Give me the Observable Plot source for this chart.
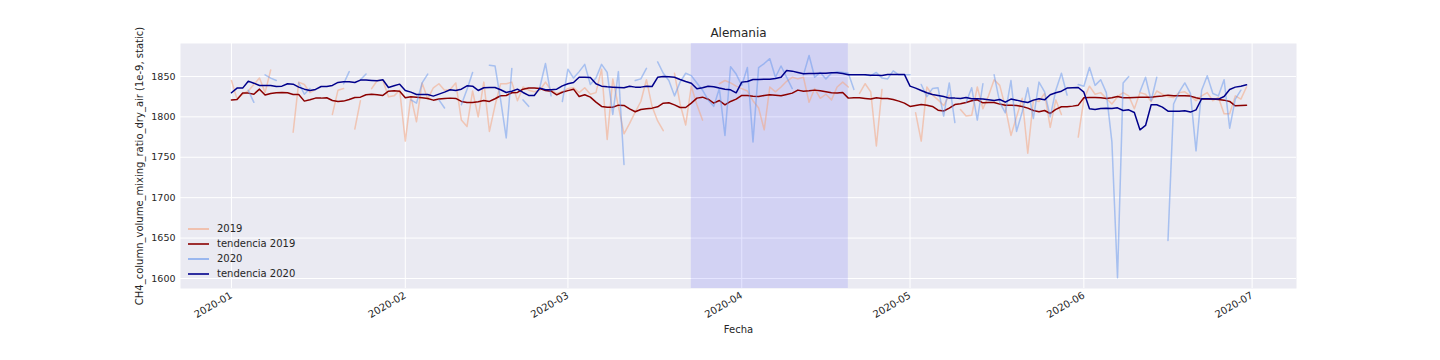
<!DOCTYPE html>
<html>
<head>
<meta charset="utf-8">
<script src="https://cdn.jsdelivr.net/npm/d3@7"></script>
<script src="https://cdn.jsdelivr.net/npm/@observablehq/plot@0.6"></script>
<style>
  html, body { margin: 0; padding: 0; background: #ffffff; }
  #wrap { position: relative; width: 1440px; height: 360px; font-family: "DejaVu Sans", sans-serif; color: #262626; }
  #legend { position: absolute; left: 188px; top: 221px; font-size: 10px; }
  .row { display: flex; align-items: center; height: 15px; }
  .sw { width: 21px; height: 0; border-top: 2px solid; margin-right: 8px; }
</style>
</head>
<body>
<div id="wrap"></div>
<script>
// ---- data ----
const inicio = "2020-01-01";           // first day (2019 values aligned on 2020 dates)
const numDias = 182;                    // 2020-01-01 .. 2020-06-30

const raw2019 = [
  1845, 1822, 1828, 1832, 1840, 1848, 1830, 1858, null, null,
  null, 1781, 1843, 1840, 1830, 1834, null, null, 1803, 1833,
  1835, null, 1785, 1820, null, 1835, 1845, 1845, 1825, 1826,
  1833, 1770, 1825, 1794, 1842, 1822, 1836, 1841, 1833, 1834,
  1842, 1796, 1788, 1832, 1800, 1843, 1782, 1814, 1841, 1841,
  1843, 1820, 1837, 1833, 1831, 1833, 1843, 1833, 1829, 1831,
  1835, 1836, 1830, 1836, 1828, 1830, 1859, 1772, 1847, 1813,
  1779, 1792, 1806, 1819, 1846, 1813, 1795, 1783, null, 1854,
  1816, 1790, 1838, 1815, 1796, null, null, 1841, 1845, 1842,
  1838, 1835, 1832, 1820, 1811, 1784, 1837, 1831, 1837, 1844,
  1849, 1847, 1849, 1818, 1835, 1823, 1828, 1821, 1837, 1843,
  1837, null, 1829, 1841, 1831, 1764, 1834, null, null, null,
  null, null, 1805, 1770, 1837, 1827, 1821, 1814, 1827, null,
  1809, 1801, 1802, 1837, 1810, 1826, 1846, 1839, 1812, 1777,
  1800, 1823, 1755, 1821, 1819, 1829, 1787, 1821, 1803, null,
  null, 1775, 1822, 1838, 1828, 1830, 1823, 1816, 1825, 1830,
  1826, 1810, 1830, 1828, 1819, 1832, 1828, 1825, 1824, 1830,
  1831, 1826, 1820, 1826, 1830, 1820, 1824, 1804, 1804, 1826,
  1822, 1837
];

const tend2019 = [
  1821, 1821.5, 1829.4, 1829.4, 1828, 1834.3, 1827, 1829, 1829.8, 1830.2,
  1829.8, 1827.7, 1827.7, 1819.5, 1821.1, 1823.2, 1823.2, 1823.6, 1820.3, 1819.1,
  1819.5, 1821.5, 1824, 1824.4, 1827.3, 1828, 1827.3, 1826.5, 1831.8, 1832.3,
  1831.8, 1823.6, 1824.8, 1824.4, 1823.6, 1822.8, 1820.7, 1822, 1822.8, 1823.2,
  1822.8, 1819.1, 1817.8, 1817.8, 1818.6, 1820.3, 1819.1, 1822.4, 1826.1, 1826.5,
  1829.8, 1830.2, 1834.3, 1835.6, 1835.6, 1835.1, 1832.7, 1831.8, 1827.3, 1830.4,
  1832.5, 1834.3, 1825.2, 1827.3, 1824.4, 1818.2, 1812.9, 1812, 1812, 1814.5,
  1814.1, 1810, 1806.3, 1809.2, 1810, 1810.8, 1812.5, 1817, 1817.4, 1814.9,
  1811.6, 1811.6, 1817, 1823.2, 1824.4, 1821.9, 1817, 1820.3, 1814.9, 1819.1,
  1821.9, 1826.5, 1826.5, 1825.5, 1825.2, 1826.5, 1827.3, 1826.9, 1826.1, 1827.7,
  1829.4, 1833.1, 1831.8, 1832.3, 1833.1, 1832.3, 1831, 1829.8, 1829.4, 1830.2,
  1823.2, 1823.6, 1823.6, 1822.8, 1822, 1823.6, 1822.8, 1822.8, 1821.5, 1819.5,
  1817, 1812.9, 1814.1, 1815.3, 1814.5, 1812.9, 1808.3, 1807.3, 1810.8, 1815.3,
  1816.2, 1817.8, 1819.9, 1821.1, 1817.4, 1817.8, 1817.8, 1815.8, 1814.5, 1814.5,
  1814.1, 1812.9, 1810.8, 1807.9, 1806.3, 1807.9, 1804.2, 1809.2, 1812.5, 1812.5,
  1813.3, 1814.5, 1823.6, 1824, 1824, 1823.6, 1822.8, 1823.6, 1825.2, 1823.6,
  1823.6, 1824, 1824.4, 1824.4, 1824.4, 1825.2, 1825.7, 1826.9, 1826.1, 1826.1,
  1826.1, 1825.7, 1823.6, 1822, 1822, 1822, 1821.5, 1820.7, 1819.1, 1813.7,
  1814.1, 1814.5
];

const raw2020 = [
  null, null, null, 1833, 1818, null, 1852, 1848, 1845, null,
  null, null, 1842, 1828, 1835, null, null, null, null, null,
  1841, 1856, null, 1846, 1853, null, null, null, null, null,
  null, null, 1821, 1817, 1842, 1853, null, 1821, 1811, null,
  null, 1815, 1834, 1855, null, null, 1864, 1863, 1821, 1774,
  1860, null, 1821, 1813, null, 1837, 1866, 1826, null, 1819,
  1859, 1848, 1856, 1865, 1840, 1848, 1865, 1855, 1803, 1856,
  1741, null, 1845, 1847, 1860, null, 1868, 1854, 1845, 1826,
  1843, 1854, 1851, 1842, 1833, 1821, 1813, 1835, 1777, 1862,
  1853, 1839, 1861, 1769, 1861, 1866, 1872, 1849, 1863, 1849,
  1835, null, 1852, 1876, 1849, 1855, 1847, 1854, 1856, 1855,
  1854, 1834, null, 1852, 1851, 1855, 1848, 1847, 1857, 1852,
  1852, 1852, null, 1840, 1825, 1835, 1836, 1801, 1842, 1793,
  null, 1818, 1836, 1796, 1841, null, 1852, 1818, 1805, 1845,
  1782, 1806, 1836, 1798, 1843, 1831, 1800, 1833, 1854, 1827,
  null, 1840, 1838, 1861, 1839, 1846, 1830, 1769, 1601, 1842,
  1850, null, 1831, 1849, 1820, 1849, null, 1647, 1816, 1831,
  1842, 1829, 1758, 1833, 1851, 1829, 1826, 1846, 1786, 1822,
  1833, null
];

const tend2020 = [
  1829.8, 1835.6, 1835.6, 1844.2, 1841.7, 1838.9, 1838.9, 1838.9, 1837.6, 1838,
  1841, 1840.5, 1836.8, 1834.3, 1832.7, 1834, 1837.6, 1837.6, 1838.9, 1842.6,
  1843.4, 1843.4, 1842.6, 1845.5, 1845.5, 1845, 1844.6, 1845.9, 1836.4, 1838.4,
  1840.5, 1832.7, 1830.6, 1827.7, 1827.7, 1827.7, 1825.7, 1828.1, 1830.6, 1833.5,
  1832.7, 1834.3, 1838.4, 1838, 1832.7, 1836, 1836.4, 1836.4, 1833.5, 1830.2,
  1831.8, 1834.3, 1830.2, 1826.5, 1826.5, 1835.6, 1833.5, 1833.5, 1834.3, 1838.4,
  1841, 1842.6, 1849, 1849, 1848.8, 1841, 1838, 1837.2, 1836.8, 1836.4,
  1836, 1838, 1836.8, 1836.8, 1838, 1837.6, 1849, 1850, 1849.5, 1849,
  1846.3, 1843.8, 1841.7, 1834.7, 1836, 1838, 1837.2, 1835.6, 1834.3, 1833.5,
  1829.8, 1843, 1843.8, 1846.3, 1846.3, 1846.7, 1846.7, 1847.5, 1849, 1857.4,
  1856.6, 1855, 1853.3, 1853.7, 1853.7, 1854.1, 1854.1, 1854.5, 1854.5, 1853.7,
  1852, 1852, 1852, 1852, 1851.6, 1851.6, 1851.2, 1852.5, 1852.5, 1852.5,
  1852.5, 1838, 1835.6, 1832.7, 1829.8, 1827.7, 1826.5, 1825.2, 1823.2, 1823.2,
  1822.8, 1824, 1822.4, 1822.4, 1822, 1821.1, 1820.3, 1821.5, 1818.2, 1822,
  1820.7, 1819.1, 1817.8, 1820.7, 1822.4, 1821.1, 1827.3, 1829.8, 1831.8, 1835.6,
  1836, 1836.4, 1830.6, 1810, 1809.2, 1810.4, 1810.8, 1810.4, 1811.2, 1807.9,
  1808.7, 1805.4, 1784, 1789.4, 1815, 1815, 1812, 1807.1, 1807.1, 1807.1,
  1807.5, 1805.9, 1808.7, 1822.4, 1822.4, 1822, 1822, 1825.2, 1833.9, 1836.8,
  1838, 1839.7
];

const series = ["2019", "tendencia 2019", "2020", "tendencia 2020"];
const colores = ["#f4a582", "#8b0000", "#6495ed", "#00008b"];
const opacidades = [0.55, 1, 0.5, 1];

const ticksY = [1600, 1650, 1700, 1750, 1800, 1850];
const ticksX = ["2020-01-01", "2020-02-01", "2020-03-01", "2020-04-01", "2020-05-01", "2020-06-01", "2020-07-01"];
const zonaInicio = "2020-03-23";
const zonaFin = "2020-04-20";
const dominioX = ["2019-12-22T22:00Z", "2020-07-08T22:00Z"];
const dominioY = [1587.6, 1890.8];

const titulo = "Alemania";
const etiquetaX = "Fecha";
const etiquetaY = "CH4_column_volume_mixing_ratio_dry_air (1e-9, static)";

// ---- build ----
const fechas = d3.range(numDias).map(i => d3.utcDay.offset(new Date(inicio), i));
const filas = vals => vals.map((v, i) => ({fecha: fechas[i], valor: v}));
const datos = [raw2019, tend2019, raw2020, tend2020].map(filas);
const tx = ticksX.map(d => new Date(d));

const lineas = datos.map((d, k) => Plot.line(d, {
  x: "fecha", y: "valor", stroke: colores[k], strokeOpacity: opacidades[k], strokeWidth: 1.5
}));

const chart = Plot.plot({
  width: 1440, height: 360,
  marginLeft: 180, marginRight: 144, marginTop: 43, marginBottom: 72,
  style: {fontFamily: "DejaVu Sans", fontSize: "10px", color: "#262626", background: "transparent"},
  x: {type: "utc", domain: dominioX.map(d => new Date(d))},
  y: {domain: dominioY},
  marks: [
    Plot.frame({fill: "#eaeaf2"}),
    Plot.gridX(tx, {stroke: "#ffffff", strokeOpacity: 1, strokeWidth: 1}),
    Plot.gridY(ticksY, {stroke: "#ffffff", strokeOpacity: 1, strokeWidth: 1}),
    Plot.rect([{a: new Date(zonaInicio), b: new Date(zonaFin)}], {x1: "a", x2: "b", fill: "#0000ff", fillOpacity: 0.1}),
    ...lineas,
    Plot.axisX(tx, {tickFormat: d3.utcFormat("%Y-%m"), tickRotate: -30, tickSize: 0, tickPadding: 6,
      label: etiquetaX, labelAnchor: "center", labelOffset: 44, labelArrow: "none", fill: "#262626"}),
    Plot.axisY(ticksY, {tickSize: 0, tickPadding: 5, tickFormat: d => String(d), fontSize: 9.5,
      label: null, fill: "#262626"}),
    Plot.axisY({label: etiquetaY, ticks: [], tickSize: 0, labelAnchor: "center",
      labelOffset: 45, labelArrow: "none", fill: "#262626", fontSize: 10}),
    Plot.text([titulo], {frameAnchor: "top", dy: -10, fontSize: 12, fill: "#262626", lineAnchor: "middle"})
  ]
});

const wrap = document.getElementById("wrap");
wrap.appendChild(chart);

const legend = document.createElement("div");
legend.id = "legend";
series.forEach((s, k) => {
  const row = document.createElement("div");
  row.className = "row";
  const sw = document.createElement("div");
  sw.className = "sw";
  sw.style.borderTopColor = colores[k];
  sw.style.opacity = opacidades[k] < 1 ? 0.6 : 0.8;
  const t = document.createElement("span");
  t.textContent = s;
  row.appendChild(sw); row.appendChild(t);
  legend.appendChild(row);
});
wrap.appendChild(legend);
</script>
</body>
</html>
